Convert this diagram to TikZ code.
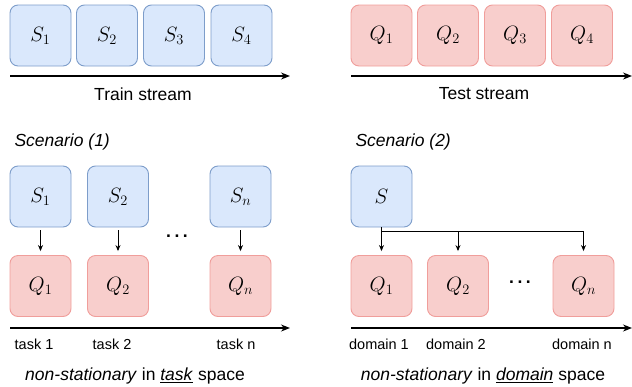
\documentclass[tikz,border=0pt]{standalone}
\usepackage{fontspec}
\setmainfont{Liberation Sans}
\usetikzlibrary{arrows.meta,positioning}
\definecolor{sfill}{HTML}{DAE8FC}
\definecolor{sline}{HTML}{7D9DCA}
\definecolor{qfill}{HTML}{F8CECC}
\definecolor{qline}{HTML}{F09E9B}
\newcommand{\gapdots}{.\hspace{3.5pt}.\hspace{3.5pt}.}
\tikzset{
  sbox/.style={draw=sline, fill=sfill, rounded corners=8pt, minimum size=61pt,
    line width=0.9pt, font=\fontsize{22}{22}\selectfont},
  qbox/.style={sbox, draw=qline, fill=qfill},
  lbl/.style={font=\fontsize{17.5}{20}\selectfont},
  small/.style={font=\fontsize{14.5}{17}\selectfont},
  gap/.style={font=\bfseries\fontsize{17.5}{20}\selectfont},
  axis/.style={line width=1.3pt, -{Stealth[length=9pt,width=7pt]}},
  link/.style={line width=0.9pt, -{Stealth[length=6pt,width=5pt]}},
}
\begin{document}
\begin{tikzpicture}[x=1pt,y=-1pt]
\useasboundingbox (0,0) rectangle (632,386);
% streams
\foreach \i/\x in {1/40.5,2/107,3/174,4/241.5}
  \node[sbox] (ts\i) at (\x,35.5) {$S_\i$};
\foreach \i/\x in {1/381.5,2/448,3/515,4/582}
  \node[qbox] (tq\i) at (\x,35.5) {$Q_\i$};
\coordinate (tra) at (10,76);
\coordinate (trb) at (290,76);
\coordinate (tea) at (351,76);
\coordinate (teb) at (632,76);
\draw[axis] (tra) -- (trb);
\draw[axis] (tea) -- (teb);
\node[lbl] (trlbl) at (143,94) {Train stream};
\node[lbl] (telbl) at (484,94) {Test stream};
% scenario 1
\node[lbl, anchor=west] (sc1) at (11,142) {\itshape Scenario (1)};
\foreach \i/\x in {1/40.5,2/118,n/240.5}{
  \node[sbox] (s\i) at (\x,196.5) {$S_\i$};
  \node[qbox] (q\i) at (\x,286) {$Q_\i$};
  \draw[link, shorten <=3pt, shorten >=4pt] (s\i) -- (q\i);
}
\node[gap] (dots1) at (177,236) {\gapdots};
\coordinate (taa) at (10,328);
\coordinate (tab) at (290,328);
\draw[axis] (taa) -- (tab);
\node[small] (t1) at (34,344) {task 1};
\node[small] (t2) at (112,344) {task 2};
\node[small] (tn) at (236,344) {task n};
\node[lbl] (cap1) at (135,376) {\textit{non-stationary} in \underline{\textit{task}} space};
% scenario 2
\node[lbl, anchor=west] (sc2) at (352,142) {\itshape Scenario (2)};
\node[sbox] (s) at (381.5,196.5) {$S$};
\foreach \i/\x in {1/381.5,2/458,n/583.5}
  \node[qbox] (d\i) at (\x,286) {$Q_\i$};
\coordinate (fork) at ([yshift=-4pt]s.south);
\draw[line width=0.9pt] (s.south) -- (fork) -- (fork -| dn);
\foreach \i in {1,2,n}
  \draw[link, shorten >=4pt] (fork -| d\i) -- (d\i);
\node[gap] (dots2) at (520,282) {\gapdots};
\coordinate (doa) at (351,328);
\coordinate (dob) at (632,328);
\draw[axis] (doa) -- (dob);
\node[small] (m1) at (379,344) {domain 1};
\node[small] (m2) at (456,344) {domain 2};
\node[small] (mn) at (582,344) {domain n};
\node[lbl] (cap2) at (483,376) {\textit{non-stationary} in \underline{\textit{domain}} space};
\end{tikzpicture}
\end{document}
